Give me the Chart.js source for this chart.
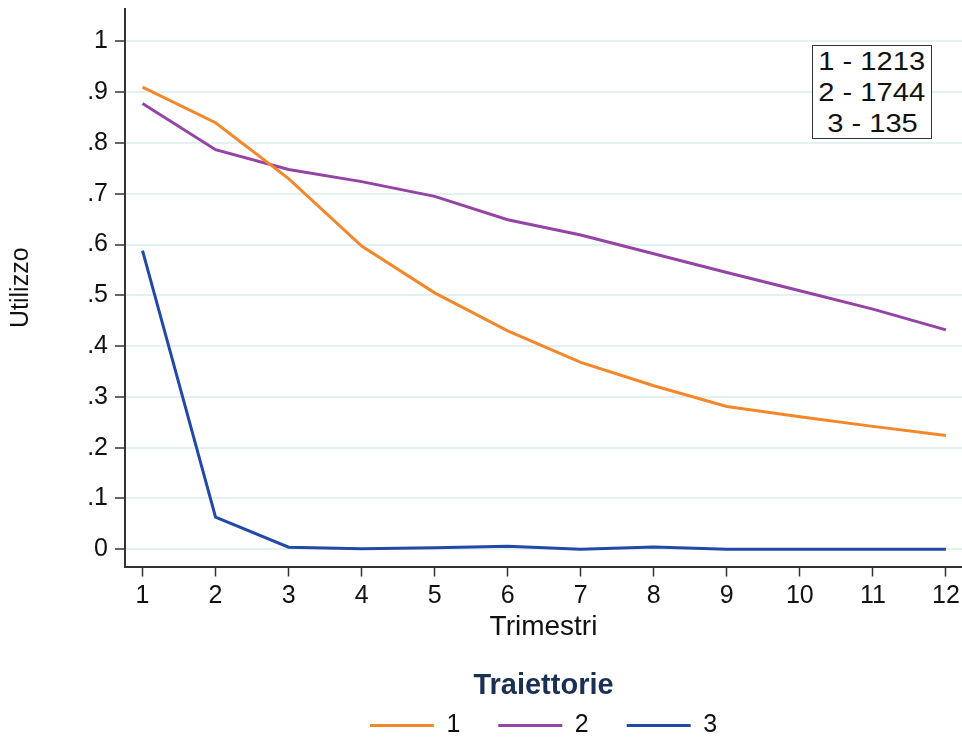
<!DOCTYPE html>
<html>
<head>
<meta charset="utf-8">
<script src="https://cdn.jsdelivr.net/npm/chart.js@4"></script>
<style>
  html, body { margin: 0; padding: 0; background: #fff; overflow: hidden; }
  #wrap { position: relative; width: 962px; height: 739px; }
  #c { display: block; }
  #note {
    position: absolute; left: 812px; top: 45px; width: 120px; height: 94px;
    box-sizing: border-box; border: 1.5px solid #333; background: #fff;
    font-family: "Liberation Sans", Arial, sans-serif; font-size: 26px; line-height: 31px;
    color: #111; text-align: center;
  }
  #note span { display: inline-block; transform: scaleX(1.12); }
</style>
</head>
<body>
<div id="wrap">
  <canvas id="c" width="962" height="739"></canvas>
  <div id="note"><span>1 - 1213</span><br><span>2 - 1744</span><br><span>3 - 135</span></div>
</div>
<script>
// ---- data ----
const quarters = [1, 2, 3, 4, 5, 6, 7, 8, 9, 10, 11, 12];
const traj1 = [0.910, 0.840, 0.730, 0.597, 0.505, 0.430, 0.368, 0.322, 0.281, 0.261, 0.242, 0.224];
const traj2 = [0.878, 0.787, 0.748, 0.724, 0.695, 0.649, 0.619, 0.582, 0.545, 0.509, 0.473, 0.432];
const traj3 = [0.588, 0.063, 0.004, 0.001, 0.003, 0.006, 0.000, 0.0045, 0.000, 0.000, 0.000, 0.000];
const seriesLabels = ['1', '2', '3'];
const yTicks = [0, 0.1, 0.2, 0.3, 0.4, 0.5, 0.6, 0.7, 0.8, 0.9, 1];
const xTicks = quarters;

const colors = ['#f5872b', '#9643a6', '#2349a8'];
const FONT = '"Liberation Sans", Arial, sans-serif';

function toPts(vals) { return quarters.map((q, i) => ({ x: q, y: vals[i] })); }
const allSeries = [traj1, traj2, traj3];

const datasets = allSeries.map((vals, i) => ({
  label: seriesLabels[i],
  data: toPts(vals),
  borderColor: colors[i],
  backgroundColor: colors[i],
  borderWidth: 3,
  pointRadius: 0,
  tension: 0,
  fill: false
}));

new Chart(document.getElementById('c'), {
  type: 'line',
  data: { datasets },
  options: {
    responsive: false,
    animation: false,
    events: [],
    layout: { padding: { top: 9, bottom: -9, left: 0, right: 0 } },
    scales: {
      x: {
        type: 'linear',
        min: 0.76, max: 12.22,
        afterBuildTicks: s => { s.ticks = xTicks.map(v => ({ value: v })); },
        afterFit: s => { s.height = 100.5; s.paddingLeft = 0; s.paddingRight = 0; },
        grid: { drawOnChartArea: false, tickLength: 10, tickColor: '#333', tickWidth: 1.5 },
        border: { color: '#333', width: 2 },
        ticks: {
          autoSkip: false, maxRotation: 0, padding: 5,
          color: '#111', font: { family: FONT, size: 25 },
          callback: v => String(v)
        },
        title: {
          display: true, text: 'Trimestri', color: '#111',
          font: { family: FONT, size: 28 }, padding: { top: 0, bottom: 23 }
        }
      },
      y: {
        type: 'linear',
        min: -0.034, max: 1.064,
        afterBuildTicks: s => { s.ticks = yTicks.map(v => ({ value: v })); },
        afterFit: s => { s.width = 125; s.paddingTop = 0; s.paddingBottom = 0; },
        grid: { color: '#e3f1f1', lineWidth: 2, tickLength: 10, tickColor: '#333', tickWidth: 1.5 },
        border: { color: '#333', width: 2 },
        ticks: {
          padding: 7, color: '#111', font: { family: FONT, size: 25 },
          callback: v => {
            const r = Math.round(v * 10);
            if (r === 0) return '0';
            if (r === 10) return '1';
            return '.' + r;
          }
        },
        title: {
          display: true, text: 'Utilizzo', color: '#111',
          font: { family: FONT, size: 25 }, padding: { top: 6, bottom: 0 }
        }
      }
    },
    plugins: {
      tooltip: { enabled: false },
      legend: {
        position: 'bottom',
        fullSize: false,
        align: 'center',
        title: {
          display: true, text: 'Traiettorie', color: '#1b2f55',
          font: { family: FONT, size: 29, weight: 'bold' },
          padding: { top: 4, bottom: -30.8 }
        },
        labels: {
          usePointStyle: true,
          pointStyle: 'line',
          pointStyleWidth: 64,
          padding: 38,
          color: '#111',
          font: { family: FONT, size: 25 }
        }
      }
    }
  }
});
</script>
</body>
</html>
